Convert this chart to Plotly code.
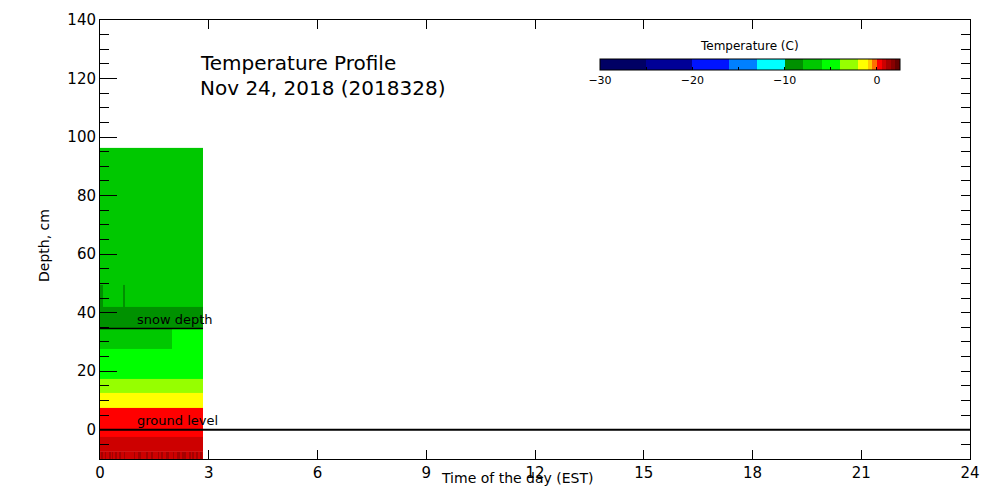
import plotly.graph_objects as go

# ---------------- data ----------------
# colour classes of the temperature scale (deg C)
temp_bounds = [-30, -25, -20, -16, -13, -10, -8, -6, -4, -2, -1, -0.5, 0, 0.5, 1, 1.5, 2, 2.5]
temp_colors = ["rgb(0,0,100)", "rgb(0,0,150)", "rgb(0,20,255)", "rgb(0,128,255)", "rgb(0,255,255)",
               "rgb(0,145,0)", "rgb(0,200,0)", "rgb(0,255,0)", "rgb(150,255,0)", "rgb(255,255,0)",
               "rgb(255,200,0)", "rgb(255,110,0)", "rgb(255,0,0)", "rgb(205,0,0)", "rgb(165,0,0)",
               "rgb(135,0,0)", "rgb(100,0,0)"]

# profile layers (hours / cm)
time_edges = [0, 0.08, 0.635, 0.69, 1.99, 2.84]
depth_edges = [-7.6, -2.5, 7.4, 12.5, 17.3, 27.6, 34.6, 41.9, 49.5, 96.3]
temp_layers = [
    [0.75, 0.75, 0.75, 0.75, 0.75],
    [0.25, 0.25, 0.25, 0.25, 0.25],
    [-1.5, -1.5, -1.5, -1.5, -1.5],
    [-3.0, -3.0, -3.0, -3.0, -3.0],
    [-5.0, -5.0, -5.0, -5.0, -5.0],
    [-7.0, -7.0, -7.0, -7.0, -5.0],
    [-9.0, -9.0, -9.0, -9.0, -9.0],
    [-9.0, -7.0, -9.0, -7.0, -7.0],
    [-7.0, -7.0, -7.0, -7.0, -7.0],
]

# deepest sensor row (fluctuating between two classes)
deep_depth_edges = [-10, -7.6]
deep_time_edges = [0, 0.028, 0.069, 0.138, 0.179, 0.248, 0.303, 0.331, 0.359, 0.414, 0.469,
                   0.524, 0.579, 0.662, 0.703, 0.938, 0.979, 1.048, 1.131, 1.269, 1.324,
                   1.407, 1.462, 1.6, 1.641, 1.683, 1.738, 1.821, 1.903, 2.014, 2.055,
                   2.124, 2.207, 2.262, 2.372, 2.455, 2.497, 2.538, 2.593, 2.648, 2.703,
                   2.759, 2.8, 2.84]
deep_temps = [0.75, 1.25, 0.75, 1.25, 0.75, 1.25, 0.75, 1.25, 0.75, 1.25, 0.75,
              1.25, 0.75, 1.25, 0.75, 1.25, 0.75, 1.25, 0.75, 1.25, 0.75,
              1.25, 0.75, 1.25, 0.75, 1.25, 0.75, 1.25, 0.75, 1.25, 0.75,
              1.25, 0.75, 1.25, 0.75, 1.25, 0.75, 1.25, 0.75, 1.25, 0.75,
              1.25, 0.75]

snow_depth = 34.6
ground_level = 0
data_end = 2.84

x_ticks = [0, 3, 6, 9, 12, 15, 18, 21, 24]
y_ticks = [0, 20, 40, 60, 80, 100, 120, 140]
cbar_ticks = [-30, -25, -20, -15, -10, -5, 0]
cbar_labels = ["\u221230", "", "\u221220", "", "\u221210", "", "0"]

# ---------------- colour scale ----------------
zmin, zmax = temp_bounds[0], temp_bounds[-1]
colorscale = []
for i, c in enumerate(temp_colors):
    colorscale.append([(temp_bounds[i] - zmin) / (zmax - zmin), c])
    colorscale.append([(temp_bounds[i + 1] - zmin) / (zmax - zmin), c])

FONT = "DejaVu Sans"

# page offset of the figure (default body margin)
OFF = 8
# plot area geometry in page pixels (for paper fractions)
L, R, T, B = 100, 970, 20, 459
W, H = R - L, B - T
FIG_W, FIG_H = 1000 - 2 * OFF, 500 - 2 * OFF


def px(x):
    return (x - L) / W


def py(y):
    return (B - y) / H


fig = go.Figure()

fig.add_trace(go.Heatmap(
    x=time_edges, y=depth_edges, z=temp_layers,
    zmin=zmin, zmax=zmax, colorscale=colorscale, zsmooth=False,
    hoverinfo="skip",
    colorbar=dict(
        orientation="h", x=px(600), xanchor="left", y=py(59), yanchor="top",
        lenmode="pixels", len=300, thickness=11, xpad=0, ypad=0,
        outlinecolor="black", outlinewidth=1,
        tickvals=cbar_ticks, ticktext=cbar_labels,
        ticks="inside", ticklen=3, tickcolor="black",
        tickfont=dict(family=FONT, size=11, color="black"),
    ),
))

fig.add_trace(go.Heatmap(
    x=deep_time_edges, y=deep_depth_edges, z=[deep_temps],
    zmin=zmin, zmax=zmax, colorscale=colorscale, zsmooth=False,
    showscale=False, hoverinfo="skip",
))

# snow depth and ground level lines
fig.add_trace(go.Scatter(x=[0, data_end], y=[snow_depth, snow_depth], mode="lines",
                         line=dict(color="black", width=1.5), showlegend=False, hoverinfo="skip"))
fig.add_trace(go.Scatter(x=[0, 24], y=[ground_level, ground_level], mode="lines",
                         line=dict(color="black", width=2), showlegend=False, hoverinfo="skip"))

fig.add_annotation(x=0.97, y=snow_depth + 3.0, text="snow depth", showarrow=False,
                   xanchor="left", yanchor="middle", font=dict(family=FONT, size=13, color="black"))
fig.add_annotation(x=0.97, y=ground_level + 3.2, text="ground level", showarrow=False,
                   xanchor="left", yanchor="middle", font=dict(family=FONT, size=13, color="black"))

# titles
fig.add_annotation(xref="paper", yref="paper", x=px(198), y=py(63), text="Temperature Profile",
                   showarrow=False, xanchor="left", yanchor="middle",
                   font=dict(family=FONT, size=20, color="black"))
fig.add_annotation(xref="paper", yref="paper", x=px(198), y=py(88), text="Nov 24, 2018 (2018328)",
                   showarrow=False, xanchor="left", yanchor="middle",
                   font=dict(family=FONT, size=20, color="black"))
fig.add_annotation(xref="paper", yref="paper", x=px(749), y=py(46), text="Temperature (C)",
                   showarrow=False, xanchor="center", yanchor="middle",
                   font=dict(family=FONT, size=12, color="black"))
fig.add_annotation(xref="paper", yref="paper", x=px(517), y=py(478), text="Time of the day (EST)",
                   showarrow=False, xanchor="center", yanchor="middle",
                   font=dict(family=FONT, size=14, color="black"))
fig.add_annotation(xref="paper", yref="paper", x=px(44), y=py(246), text="Depth, cm",
                   showarrow=False, xanchor="center", yanchor="middle", textangle=-90,
                   font=dict(family=FONT, size=14, color="black"))

fig.update_layout(
    width=FIG_W, height=FIG_H,
    margin=dict(l=L - OFF, r=FIG_W - (R - OFF), t=T - OFF, b=FIG_H - (B - OFF), pad=0,
                autoexpand=False),
    paper_bgcolor="white", plot_bgcolor="white",
    showlegend=False,
    xaxis=dict(range=[0, 24], tickvals=x_ticks, ticks="inside", ticklen=9, tickcolor="black",
               showline=True, linecolor="black", linewidth=1, mirror="ticks",
               showgrid=False, zeroline=False, automargin=False,
               tickfont=dict(family=FONT, size=15, color="black")),
    yaxis=dict(range=[-10, 140], tickvals=y_ticks, ticks="inside", ticklen=17, tickcolor="black",
               minor=dict(dtick=5, ticks="inside", ticklen=9, tickcolor="black"),
               showline=True, linecolor="black", linewidth=1,
               showgrid=False, zeroline=False, automargin=False,
               tickfont=dict(family=FONT, size=15, color="black")),
    yaxis2=dict(range=[-10, 140], overlaying="y", side="right", dtick=5, tick0=0,
                ticks="inside", ticklen=9, tickcolor="black", showticklabels=False,
                showline=True, linecolor="black", linewidth=1, showgrid=False, zeroline=False,
                automargin=False),
)

# dummy trace to activate right axis
fig.add_trace(go.Scatter(x=[None], y=[None], yaxis="y2", showlegend=False, hoverinfo="skip"))

fig.write_html("out.html")
